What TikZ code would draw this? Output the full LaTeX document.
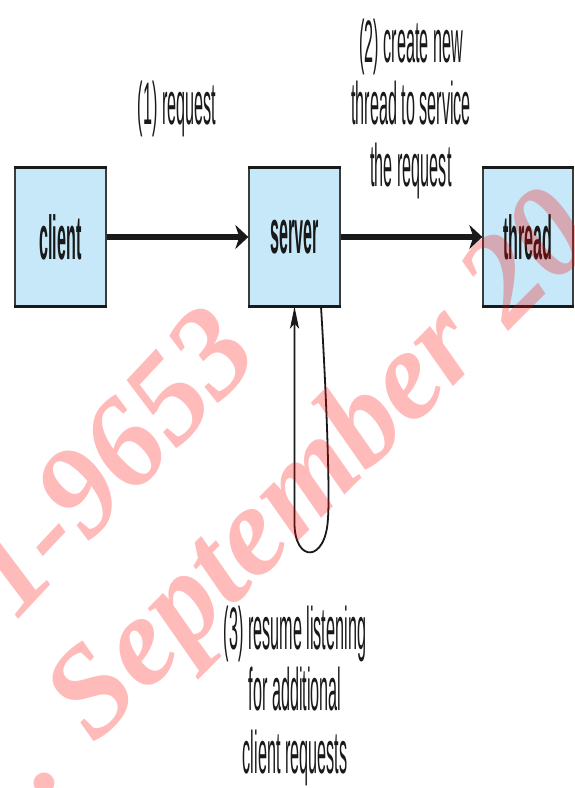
\documentclass[tikz,border=0pt]{standalone}
\usepackage{fontspec}
\setmainfont{Liberation Sans}
\newfontfamily\labfont[FakeStretch=0.27]{Liberation Sans}
\newfontfamily\boxfont[FakeStretch=0.26]{Liberation Sans}
\newfontfamily\wmfont{Liberation Serif}
\usetikzlibrary{arrows.meta}
\definecolor{boxblue}{RGB}{198,232,248}
\definecolor{edgegray}{RGB}{60,60,60}
\definecolor{inkblack}{RGB}{25,25,25}
\begin{document}
\begin{tikzpicture}[x=1pt,y=1pt,
  barline/.style={draw=inkblack, line width=3.5pt, -},
  procbox/.style={fill=boxblue, draw=edgegray, line width=1.3pt,
    minimum width=91pt, minimum height=138pt, inner sep=0pt,
    text=inkblack, font=\boxfont\bfseries\fontsize{62}{62}\selectfont,
    append after command={(\tikzlastnode.north west) edge[barline] (\tikzlastnode.north east)
      (\tikzlastnode.south west) edge[barline] (\tikzlastnode.south east)}},
  flow/.style={draw=inkblack, line width=5.5pt, -{Stealth[length=13pt,width=24pt,inset=4pt]}},
  loopline/.style={draw=inkblack, line width=1.8pt, -{Stealth[length=22pt,width=9pt,inset=5pt]}},
  steplabel/.style={font=\labfont\fontsize{60}{62}\selectfont, align=center, inner sep=0pt, text=inkblack},
  watermark/.style={font=\wmfont\bfseries\itshape\fontsize{128}{128}\selectfont, text=red,
    text opacity=0.27, inner sep=0pt, anchor=base west}
]
\useasboundingbox (0,0) rectangle (574,788);
\fill[white] (0,0) rectangle (574,788);
\begin{scope}
\clip (0,0) rectangle (574,788);
\node[procbox] (client) at (60.5,551) {client};
\node[procbox] (server) at (294.5,551) {server};
\node[procbox, minimum width=90pt] (thread) at (528,551) {thread};

\draw[flow] (client) -- (server);
\draw[flow] (server) -- (thread);

\coordinate (loopout) at ([xshift=26.5pt]server.south);
\coordinate (loopin) at (server.south);
\draw[loopline] (loopout) .. controls (326,400) and (330,300) .. (328,270)
  .. controls (326,225) and (294.5,225) .. (294.5,265) -- (loopin);

\node[steplabel, anchor=base] (lab1) at (177,663) {(1) request};
\node[steplabel, anchor=base] (lab2) at (411,601) {(2) create new\\thread to service\\the request};
\node[steplabel, anchor=base] (lab3) at (295,15) {(3) resume listening\\for additional\\client requests};

\node[watermark, rotate=47] (wm1) at (16,166) {1-9653};
\node[watermark, rotate=45] (wm2) at (42,-10) {. September 20};
\end{scope}
\end{tikzpicture}
\end{document}
